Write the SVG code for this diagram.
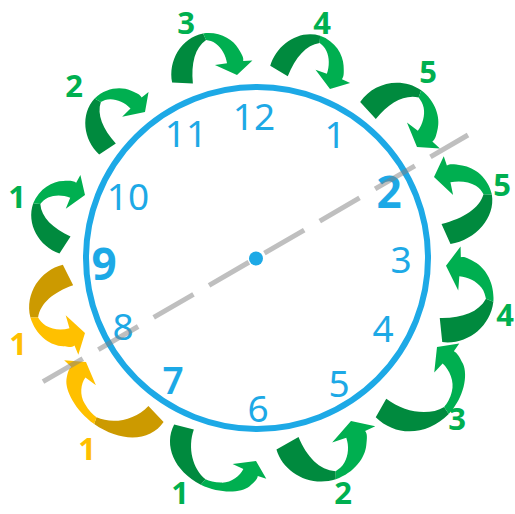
<svg xmlns="http://www.w3.org/2000/svg" width="515" height="514" viewBox="0 0 515 514">
<style>
.face{fill:none;stroke:#1DA9E6;stroke-width:6}
.dot{fill:#1DA9E6}
.hr{font-family:"Noto Sans","Open Sans",sans-serif;font-size:37px;fill:#1DA9E6;text-anchor:middle}
.b{font-weight:700;font-size:44px}
.sb{font-weight:600}
.lbl{font-family:"Open Sans","Noto Sans",sans-serif;font-weight:700;font-size:31px;text-anchor:middle}
.g{fill:#00B050}.y{fill:#FFC000}
.gd{fill:#008A3E}.gl{fill:#00AF50}.yd{fill:#CC9A00}.yl{fill:#FFC000}
.dash{stroke:#808080;stroke-opacity:.5;stroke-width:5;stroke-dasharray:46 18;fill:none}
</style>
<defs>
<path id="ad" d="M -37,-2 C -38,-24 -22,-45 0,-46 L 2,-39 C -10,-33 -16,-18 -17,2 Z"/>
<path id="al" d="M 0,-46 C 16,-46 28,-36 32,-26 C 35,-19 36,-16 35,-13 L 44,-12 L 27,0 L 7,-13 L 19,-13 C 19,-21 16,-29 11,-34 C 8,-37 5,-38 2,-39 Z"/>
<path id="Ld" d="M -50,-2 C -51,-26 -30,-45 0,-46 L 2,-39 C -14,-35 -28,-18 -30,2 Z"/>
<path id="Ll" d="M 0,-46 C 22,-46 40,-36 45,-26 C 48,-19 49,-16 48,-13 L 57,-12 L 40,0 L 20,-13 L 32,-13 C 32,-21 27,-31 18,-35 C 12,-38 6,-39 2,-39 Z"/>
</defs>
<g id="clock">
<circle class="face" cx="257" cy="258" r="171"/>
</g>
<g id="hours">
<text class="hr" x="254" y="130">12</text>
<text class="hr" x="335" y="148">1</text>
<text class="hr b" x="389" y="208">2</text>
<text class="hr" x="401" y="273">3</text>
<text class="hr" x="383" y="342">4</text>
<text class="hr" x="339" y="397">5</text>
<text class="hr" x="258" y="422">6</text>
<text class="hr sb" x="173" y="394">7</text>
<text class="hr" x="123" y="340">8</text>
<text class="hr b" x="104" y="280">9</text>
<text class="hr" x="128" y="210">10</text>
<text class="hr" x="186" y="147">11</text>
</g>
<g id="arrows">
<g id="arrow-cw1" transform="matrix(0.3704,-0.9259,0.9083,0.3633,75,220)"><use href="#ad" class="gd"/><use href="#al" class="gl"/></g>
<g id="arrow-cw2" transform="matrix(0.6944,-0.6852,0.6871,0.6963,126.25,130.5)"><use href="#ad" class="gd"/><use href="#al" class="gl"/></g>
<g id="arrow-cw3" transform="matrix(1.0093,-0.1481,0.1452,0.9894,209.75,79)"><use href="#ad" class="gd"/><use href="#al" class="gl"/></g>
<g id="arrow-cw4" transform="matrix(0.9444,0.3333,-0.34,0.9635,304.5,80)"><use href="#ad" class="gd"/><use href="#al" class="gl"/></g>
<g id="arrow-cw5" transform="matrix(0.9074,0.6759,-0.6234,0.8369,392.5,128.75)"><use href="#ad" class="gd"/><use href="#al" class="gl"/></g>
<g id="arrow-ccw5" transform="matrix(-0.2222,-1.0556,-1.1274,0.2373,440,205.5)"><use href="#ad" class="gd"/><use href="#al" class="gl"/></g>
<g id="arrow-ccw4" transform="matrix(0.0926,-1.1907,-1.0837,-0.0842,443.5,297.85)"><use href="#ad" class="gd"/><use href="#al" class="gl"/></g>
<g id="arrow-ccw3" transform="matrix(0.7,-0.7625,-0.8648,-0.7939,409,377.5)"><use href="#Ld" class="gd"/><use href="#Ll" class="gl"/></g>
<g id="arrow-ccw2" transform="matrix(1.1759,-0.413,-0.3602,-1.0255,319.25,432.15)"><use href="#ad" class="gd"/><use href="#al" class="gl"/></g>
<g id="arrow-ccw1" transform="matrix(0.9,0.425,0.4178,-0.8848,220,444)"><use href="#Ld" class="gd"/><use href="#Ll" class="gl"/></g>
<g id="arrow-y-top" transform="matrix(0.3148,1.0741,1.0013,-0.2935,76.5,304)"><use href="#ad" class="yd"/><use href="#al" class="yl"/></g>
<g id="arrow-y-bottom" transform="matrix(-0.875,-0.65,0.5833,-0.7853,121,388)"><use href="#Ld" class="yd"/><use href="#Ll" class="yl"/></g>
</g>
<g id="labels">
<text class="lbl g" x="17" y="208">1</text>
<text class="lbl g" x="74" y="97">2</text>
<text class="lbl g" x="186" y="34">3</text>
<text class="lbl g" x="322" y="34">4</text>
<text class="lbl g" x="428" y="83">5</text>
<text class="lbl g" x="502" y="196">5</text>
<text class="lbl g" x="505" y="326">4</text>
<text class="lbl g" x="457" y="430">3</text>
<text class="lbl g" x="343" y="504">2</text>
<text class="lbl g" x="180" y="504">1</text>
<text class="lbl y" x="18" y="355">1</text>
<text class="lbl y" x="87" y="460">1</text>
</g>
<g id="connectors">
<line class="dash" x1="43" y1="381.7" x2="468" y2="135"/>
</g>
<g id="center">
<circle class="dot" cx="256" cy="258.5" r="7"/>
</g>
</svg>
